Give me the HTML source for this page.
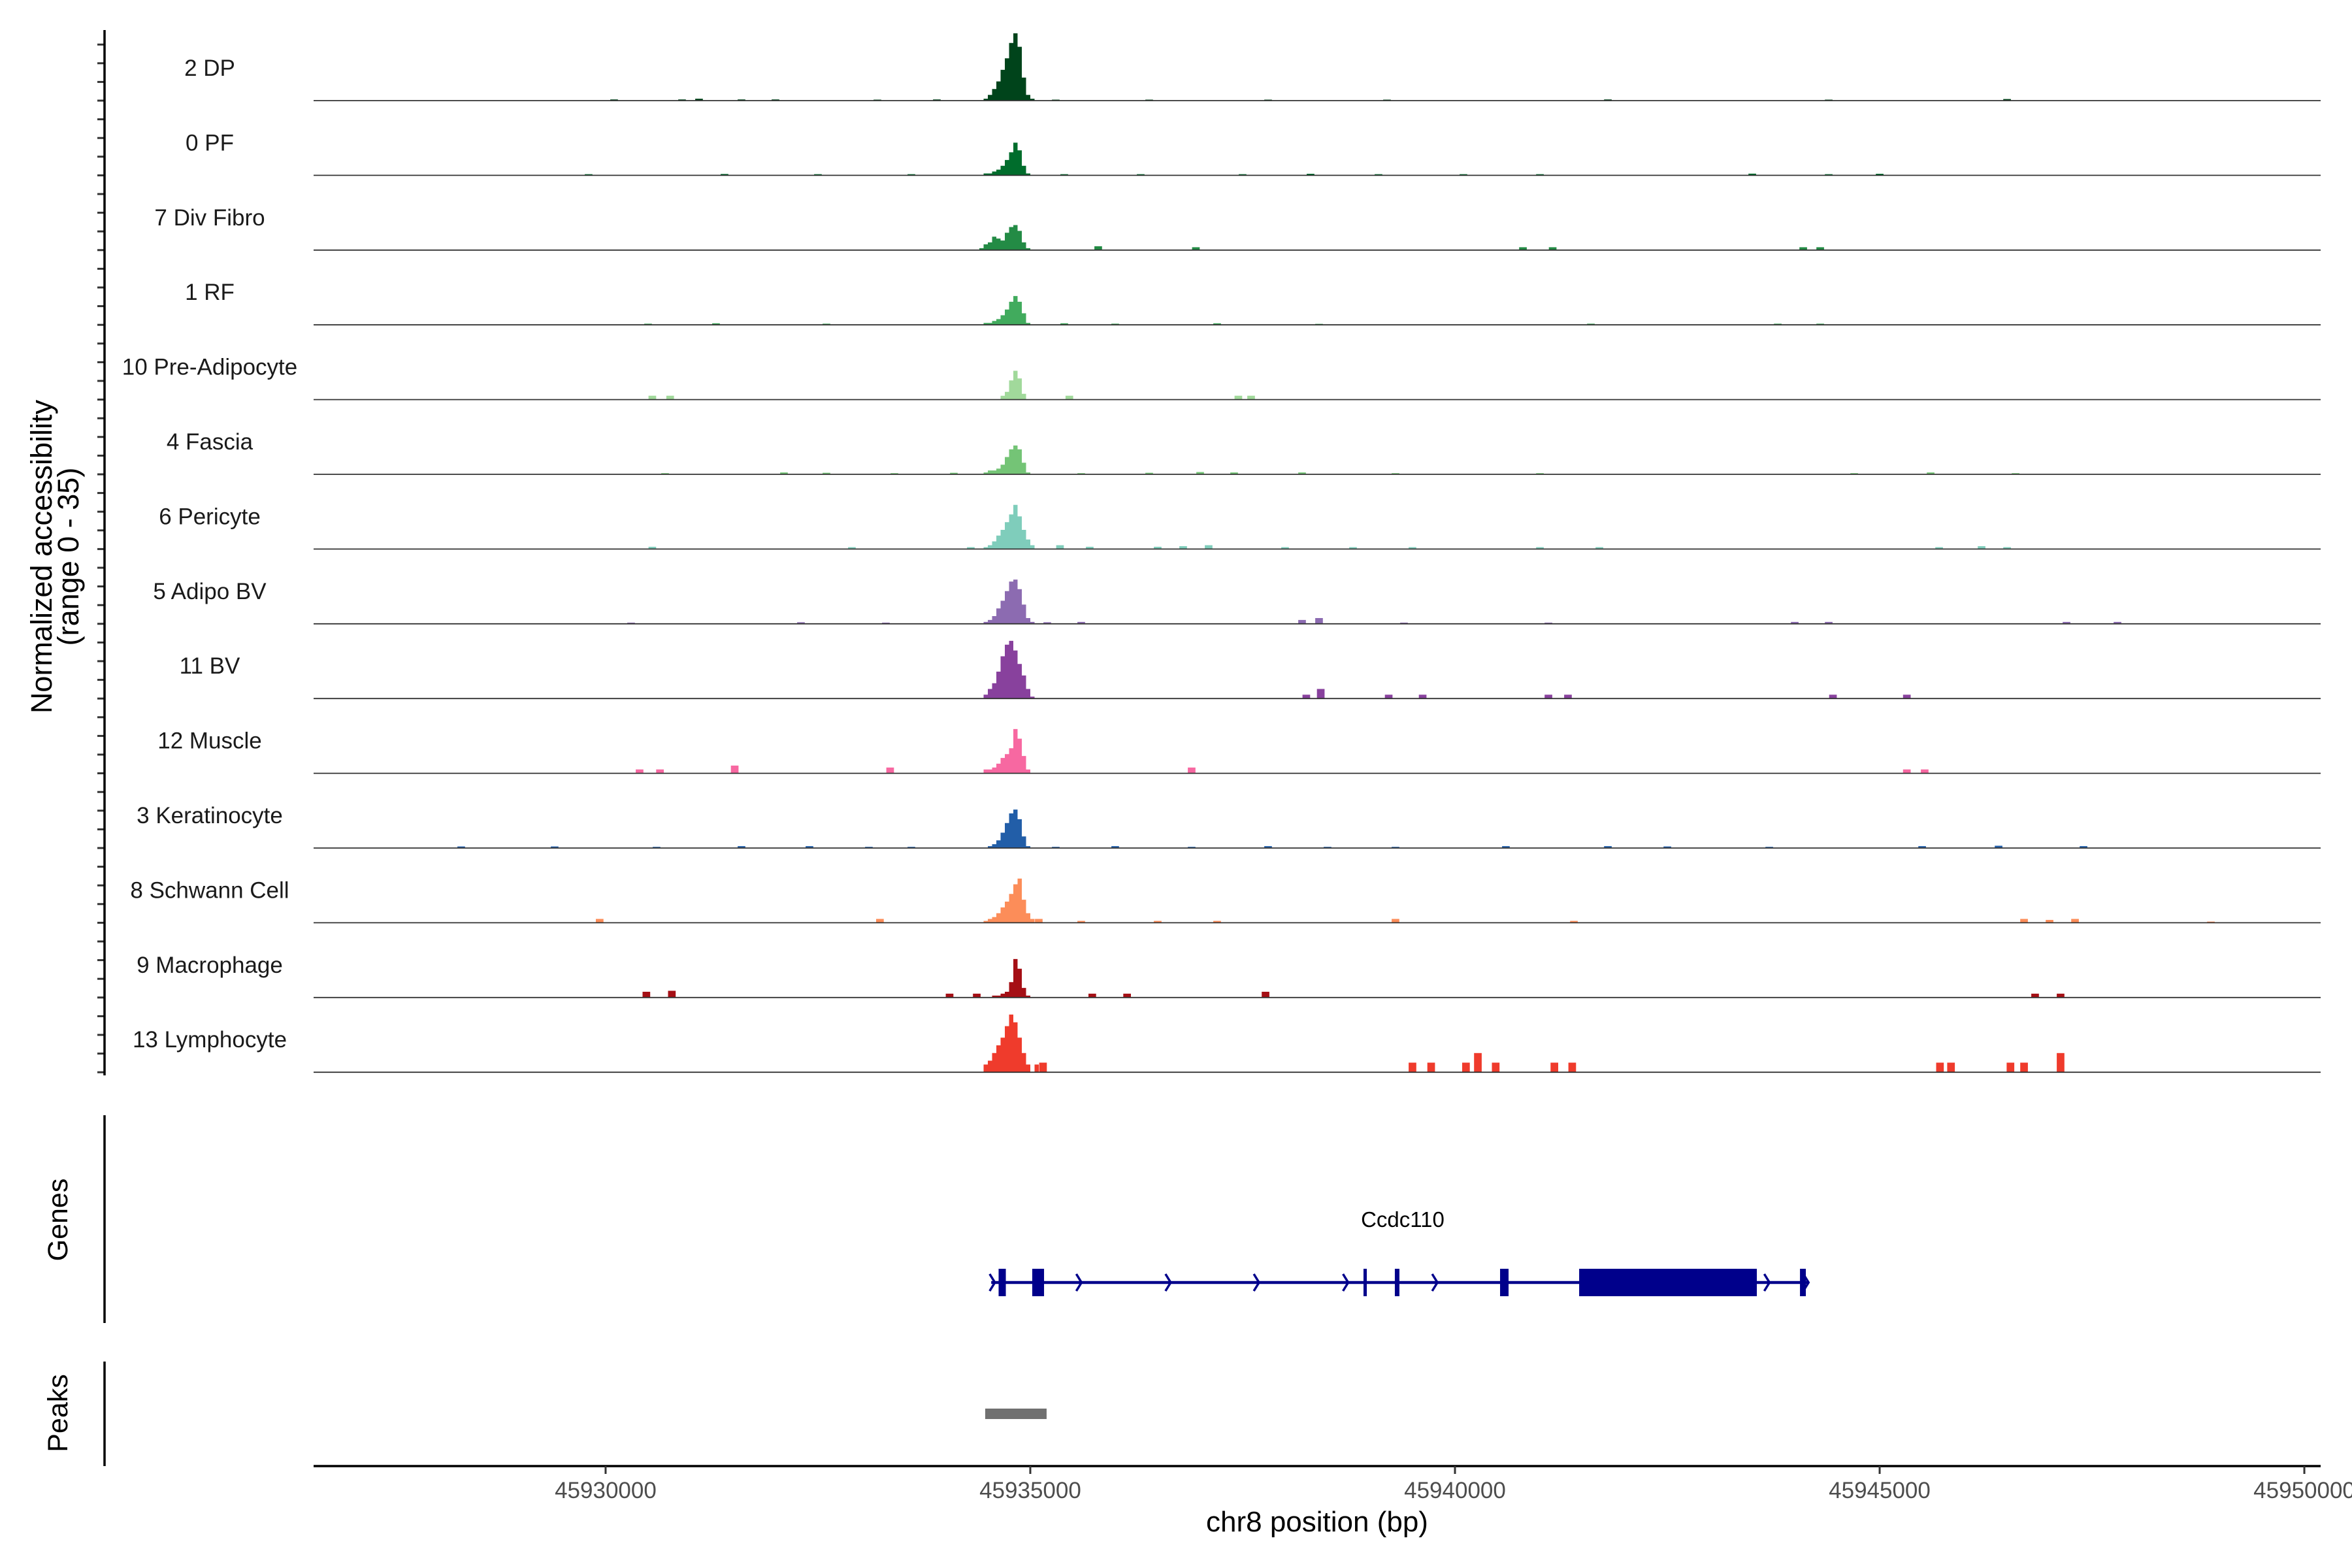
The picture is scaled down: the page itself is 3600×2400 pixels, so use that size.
<!DOCTYPE html>
<html><head><meta charset="utf-8"><style>
html,body{margin:0;padding:0;background:#fff;}
svg{display:block;font-family:"Liberation Sans",sans-serif;}
</style></head><body>
<svg id="chart" width="3600" height="2400" viewBox="0 0 3600 2400" xmlns="http://www.w3.org/2000/svg">
<g id="tracks"></g>
<g id="axes"></g>
<text transform="translate(79,852) rotate(-90)" text-anchor="middle" font-size="45" fill="#000">Normalized accessibility</text>
<text transform="translate(120,852) rotate(-90)" text-anchor="middle" font-size="45" fill="#000">(range 0 - 35)</text>
<text transform="translate(103,1867) rotate(-90)" text-anchor="middle" font-size="43" fill="#000">Genes</text>
<text transform="translate(103,2163) rotate(-90)" text-anchor="middle" font-size="43" fill="#000">Peaks</text>
<text x="2016" y="2344" text-anchor="middle" font-size="44" fill="#000">chr8 position (bp)</text>
<g id="gene"></g>
</svg>
<script>
const trackNames = ["2 DP","0 PF","7 Div Fibro","1 RF","10 Pre-Adipocyte","4 Fascia","6 Pericyte","5 Adipo BV","11 BV","12 Muscle","3 Keratinocyte","8 Schwann Cell","9 Macrophage","13 Lymphocyte"];
const trackColors = ["#00441b","#006d2c","#238b45","#41ab5d","#a1d99b","#74c476","#7fcdbb","#8c6bb1","#88419d","#f768a1","#225ea8","#fc8d59","#a50f15","#ef3b2c"];
const peakBinStart = 45934400;
const peakBinSize = 50;
const peakDP = [0,1,3,6,10,16,22,30,35,28,12,3,1,0,0];
const peakPF = [0,1,1,2,3,5,8,12,17,13,5,1,0,0,0];
const peakDiv = [1,3,4,7,6,5,9,12,13,10,4,1,0,0,0];
const peakRF = [0,1,1,2,3,5,8,12,15,12,6,1,0,0,0];
const peakPre = [0,0,0,0,0,2,4,10,15,11,3,0,0,0,0];
const peakFascia = [0,1,2,2,3,5,9,13,15,13,6,1,0,0,0];
const peakPeri = [0,1,2,4,7,10,14,18,23,17,10,5,2,0,0];
const peakAdipoBV = [0,1,2,4,8,12,17,22,23,18,10,3,1,0,0];
const peakBV = [0,2,5,8,14,22,28,30,25,18,12,5,1,0,0];
const peakMuscle = [0,2,2,3,5,8,10,13,23,18,9,2,0,0,0];
const peakKera = [0,0,1,2,4,8,13,18,20,15,6,1,0,0,0];
const peakSchwann = [0,1,2,3,5,8,11,15,20,23,12,5,2,0,0];
const peakMac = [0,0,0,1,1,2,3,8,20,15,5,1,0,0,0];
const peakLymph = [0,4,6,10,14,18,24,30,26,18,10,4,0,4,0];
const peakValues = [peakDP,peakPF,peakDiv,peakRF,peakPre,peakFascia,peakPeri,peakAdipoBV,peakBV,peakMuscle,peakKera,peakSchwann,peakMac,peakLymph];
const blipDP = [[45930100,0.6],[45930900,0.6],[45931100,1],[45931600,0.6],[45932000,0.6],[45933200,0.5],[45933900,0.6],[45935300,0.5],[45936400,0.5],[45937800,0.5],[45939200,0.5],[45941800,0.6],[45944400,0.5],[45946500,0.8]];
const blipPF = [[45929800,0.6],[45931400,0.7],[45932500,0.6],[45933600,0.6],[45935400,0.6],[45936300,0.6],[45937500,0.6],[45938300,0.8],[45939100,0.6],[45940100,0.6],[45941000,0.6],[45943500,0.9],[45944400,0.6],[45945000,0.8]];
const blipDiv = [[45935800,2],[45936950,1.5],[45940800,1.5],[45941150,1.5],[45944100,1.5],[45944300,1.5]];
const blipRF = [[45930500,0.6],[45931300,0.8],[45932600,0.6],[45935400,0.8],[45936000,0.6],[45937200,0.8],[45938400,0.5],[45941600,0.6],[45943800,0.6],[45944300,0.6]];
const blipPre = [[45930550,2],[45930760,2],[45935460,2],[45937450,2],[45937600,2]];
const blipFascia = [[45930700,0.6],[45932100,1],[45932600,0.8],[45933400,0.6],[45934100,0.8],[45935600,0.6],[45936400,0.8],[45937000,1.2],[45937400,1],[45938200,1],[45939300,0.6],[45941000,0.6],[45944700,0.6],[45945600,1],[45946600,0.6]];
const blipPeri = [[45930550,1.2],[45932900,1],[45934300,1],[45935350,2],[45935700,1.2],[45936500,1.2],[45936800,1.5],[45937100,2],[45938000,1],[45938800,1],[45939500,1],[45941000,1],[45941700,1],[45945700,1],[45946200,1.5],[45946500,1]];
const blipAdipoBV = [[45930300,0.6],[45932300,0.8],[45933300,0.6],[45935200,0.8],[45935600,1],[45938200,2],[45938400,3],[45939400,0.6],[45941100,0.6],[45944000,1],[45944400,1],[45947200,1],[45947800,1]];
const blipBV = [[45938250,2],[45938420,5],[45939220,2],[45939620,2],[45941100,2],[45941330,2],[45944450,2],[45945320,2]];
const blipMuscle = [[45930400,2],[45930640,2],[45931520,4],[45933350,3],[45936900,3],[45945320,2],[45945530,2]];
const blipKera = [[45928300,0.8],[45929400,0.8],[45930600,0.6],[45931600,1],[45932400,1],[45933100,0.6],[45933600,0.6],[45935300,0.6],[45936000,1],[45936900,0.6],[45937800,1],[45938500,0.6],[45939300,0.6],[45940600,1],[45941800,1],[45942500,0.8],[45943700,0.6],[45945500,1],[45946400,1.2],[45947400,1]];
const blipSchwann = [[45929930,2],[45933230,2],[45935100,2],[45935600,1],[45936500,1],[45937200,1],[45939300,2],[45941400,1],[45946700,2],[45947000,1.5],[45947300,2],[45948900,0.6]];
const blipMac = [[45930480,3],[45930780,3.5],[45934050,2],[45934370,2],[45935730,2],[45936140,2],[45937770,3],[45946830,2],[45947130,2]];
const blipLymph = [[45935150,5],[45939500,5],[45939720,5],[45940130,5],[45940270,10],[45940480,5],[45941170,5],[45941380,5],[45945710,5],[45945840,5],[45946540,5],[45946700,5],[45947130,10]];
const blipValues = [blipDP,blipPF,blipDiv,blipRF,blipPre,blipFascia,blipPeri,blipAdipoBV,blipBV,blipMuscle,blipKera,blipSchwann,blipMac,blipLymph];
const xTicks = [45930000,45935000,45940000,45945000,45950000];
const xTickLabels = ["45930000","45935000","45940000","45945000","45950000"];
const geneName = "Ccdc110";
const geneStart = 45934540;
const geneEnd = 45944150;
const exonStarts = [45934627,45935023,45938923,45939292,45940531,45941462,45944062];
const exonEnds = [45934712,45935162,45938962,45939346,45940631,45943554,45944131];
const arrowPositions = [45934560,45935580,45936630,45937670,45938720,45939770,45943680,45944140];
const peakRegionStart = 45934469;
const peakRegionEnd = 45935192;

const NS = "http://www.w3.org/2000/svg";
const X0 = 480, X1 = 3552, BP0 = 45926562, BP1 = 45950192;
function xs(bp){ return X0 + (bp - BP0) * (X1 - X0) / (BP1 - BP0); }
const trackTop = 154, trackStep = 114.4, yMax = 35, yPx = 103;
function ys(v, i){ return trackTop + i*trackStep - v*yPx/yMax; }
function mk(tag, attrs, parent){ const e = document.createElementNS(NS, tag); for (const k in attrs) e.setAttribute(k, attrs[k]); parent.appendChild(e); return e; }

const tracks = document.getElementById('tracks');
const axes = document.getElementById('axes');
trackNames.forEach((name, i) => {
  const g = mk('g', {}, tracks);
  
  
  const base = ys(0, i);
  const lbl = mk('text', {x: 321, y: base - 38, 'text-anchor': 'middle', 'font-size': 35, fill: '#1a1a1a'}, g);
  lbl.textContent = name;
  
  
  const vals = peakValues[i];
  let d = 'M' + xs(peakBinStart).toFixed(1) + ',' + base;
  vals.forEach((v, k) => {
    const xa = xs(peakBinStart + k*peakBinSize), xb = xs(peakBinStart + (k+1)*peakBinSize);
    const y = ys(v, i);
    d += ' L' + xa.toFixed(1) + ',' + y.toFixed(1) + ' L' + xb.toFixed(1) + ',' + y.toFixed(1);
  });
  d += ' L' + xs(peakBinStart + vals.length*peakBinSize).toFixed(1) + ',' + base + ' Z';
  const p = mk('path', {d: d, fill: trackColors[i]}, g);
  
  
  blipValues[i].forEach(b => {
    const w = 90;
    const r = mk('rect', {x: xs(b[0]-w/2).toFixed(1), y: ys(b[1], i).toFixed(1), width: (xs(b[0]+w/2)-xs(b[0]-w/2)).toFixed(1), height: (base - ys(b[1], i)).toFixed(1), fill: trackColors[i]}, g);
    
    
  });
  const bl = mk('line', {x1: X0, x2: X1, y1: base, y2: base, stroke: '#333', 'stroke-width': 1.8}, g);
  
  
  for (let j = 0; j < 4; j++) {
    const ty = base - j*trackStep/4;
    const t = mk('line', {x1: 149, x2: 160, y1: ty, y2: ty, stroke: '#333', 'stroke-width': 3}, axes);
    
    
  }
});
const yl = mk('line', {x1: 160, x2: 160, y1: 46, y2: 1646, stroke: '#000', 'stroke-width': 3.5}, axes);


const gl = mk('line', {x1: 160, x2: 160, y1: 1707, y2: 2025, stroke: '#000', 'stroke-width': 3.5}, axes);


const pl = mk('line', {x1: 160, x2: 160, y1: 2084, y2: 2244, stroke: '#000', 'stroke-width': 3.5}, axes);


const xl = mk('line', {x1: X0, x2: X1, y1: 2244, y2: 2244, stroke: '#000', 'stroke-width': 3.5}, axes);


xTicks.forEach((t, k) => {
  const x = xs(t);
  const tl = mk('line', {x1: x, x2: x, y1: 2244, y2: 2256, stroke: '#333', 'stroke-width': 3}, axes);
  
  
  const tx = mk('text', {x: x, y: 2293, 'text-anchor': 'middle', 'font-size': 35, fill: '#4d4d4d'}, axes);
  tx.textContent = xTickLabels[k];
  
  
});
const gene = document.getElementById('gene');
const gy = 1963;
const gline = mk('line', {x1: xs(geneStart), x2: xs(geneEnd), y1: gy, y2: gy, stroke: '#00008b', 'stroke-width': 4.5}, gene);


arrowPositions.forEach(a => {
  const x = xs(a);
  const ar = mk('polyline', {points: (x-5)+','+(gy-13)+' '+(x+3)+','+gy+' '+(x-5)+','+(gy+13), fill: 'none', stroke: '#00008b', 'stroke-width': 3.5}, gene);
  
  
});
exonStarts.forEach((s, k) => {
  const ex = mk('rect', {x: xs(s), y: gy - 21, width: Math.max(4, xs(exonEnds[k]) - xs(s)), height: 42, fill: '#00008b'}, gene);
  
  
});
const gn = mk('text', {x: 2147, y: 1878, 'text-anchor': 'middle', 'font-size': 33, fill: '#000'}, gene);
gn.textContent = geneName;


const pk = mk('rect', {x: xs(peakRegionStart), y: 2156, width: xs(peakRegionEnd) - xs(peakRegionStart), height: 16, fill: '#707070'}, gene);


</script>
</body></html>
